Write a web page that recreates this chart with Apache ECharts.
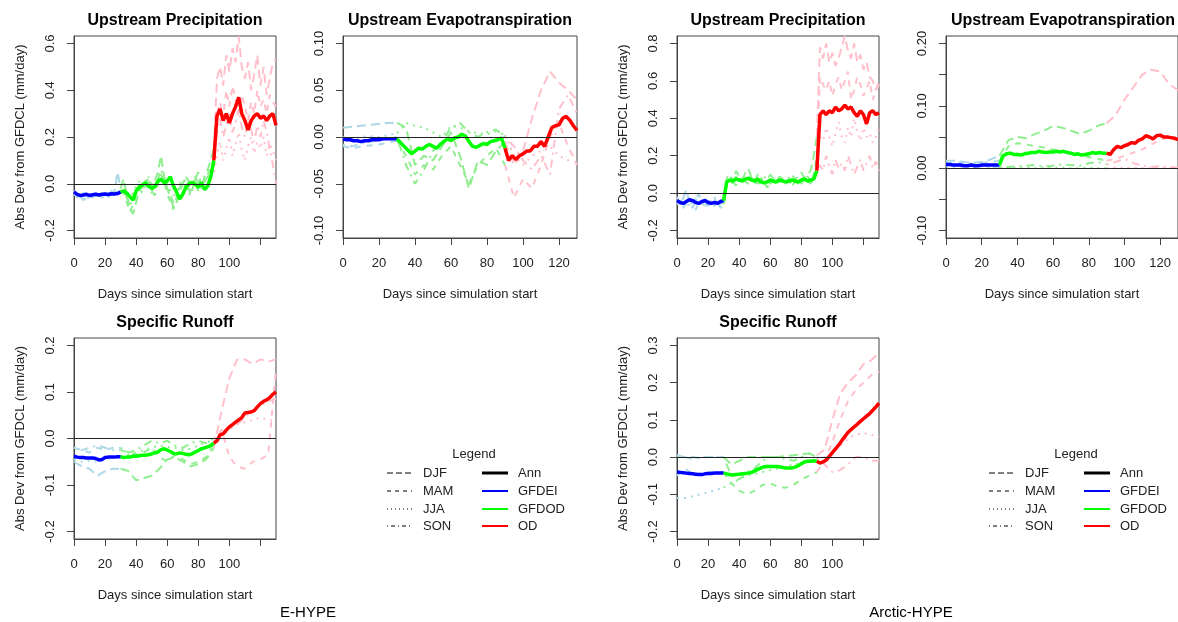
<!DOCTYPE html>
<html lang="en">
<head>
<meta charset="UTF-8">
<title>Abs Dev from GFDCL</title>
<script src="https://cdn.jsdelivr.net/npm/echarts@6/dist/echarts.min.js"></script>
<style>
    html, body { margin: 0; padding: 0; background: #fff; }
    #main { width: 1178px; height: 622px; }
</style>
</head>
<body>
<div id="main"></div>
<script>
// x positions (days since simulation start)
var daysFine = [0,2,4,6,8,10,12,14,16,18,20,22,24,26,28,30,32,34,36,38,40,42,44,46,48,50,52,54,56,58,60,62,64,66,68,70,72,74,76,78,80,82,84,86,88,90,92,94,96,98,100,102,104,106,108,110,112,114,116,118,120,122,124,126,128,130];
var daysCoarse = [0,5,10,15,20,25,30,35,40,45,50,55,60,65,70,75,80,85,90,95,100,105,110,115,120,125,130];

// E-HYPE, upstream precipitation
var ePrecAnn = [-0.035,-0.045,-0.05,-0.048,-0.045,-0.05,-0.047,-0.045,-0.048,-0.045,-0.044,-0.046,-0.043,-0.044,-0.042,-0.035,
    -0.03,-0.04,-0.055,-0.07,-0.03,-0.015,-0.005,0.005,-0.01,-0.02,-0.012,0.01,0.02,0.005,0.012,0.03,-0.01,-0.035,-0.065,-0.045,-0.015,0.0,0.005,-0.002,-0.015,0.005,-0.025,-0.01,0.03,
    0.1,
    0.29,0.32,0.27,0.30,0.26,0.30,0.33,0.37,0.30,0.27,0.23,0.27,0.29,0.30,0.28,0.29,0.27,0.29,0.30,0.25];
var ePrecDjf = [-0.03,-0.05,-0.06,-0.04,-0.05,-0.07,-0.05,-0.04,-0.06,-0.05,-0.04,-0.05,-0.03,-0.04,0.05,-0.02,
    0.02,-0.05,-0.1,-0.13,-0.08,-0.03,0.0,0.02,-0.02,-0.04,0.01,0.05,0.12,0.03,-0.02,-0.06,-0.1,-0.08,-0.04,0.0,0.03,0.01,-0.03,0.02,0.05,-0.02,0.03,0.06,0.1,
    0.15,0.45,0.5,0.42,0.55,0.48,0.58,0.52,0.63,0.5,0.45,0.52,0.4,0.47,0.55,0.42,0.5,0.38,0.45,0.52,0.53];
var ePrecMam = [-0.04,-0.06,-0.05,-0.07,-0.06,-0.05,-0.06,-0.04,-0.05,-0.06,-0.05,-0.06,-0.04,-0.05,-0.04,-0.03,
    -0.04,-0.08,-0.12,-0.09,-0.05,-0.02,-0.04,-0.01,0.02,-0.03,-0.05,0.0,0.04,0.01,-0.04,-0.08,-0.11,-0.06,-0.02,0.01,-0.02,-0.05,-0.01,0.02,-0.03,0.0,0.02,0.04,0.07,
    0.1,0.3,0.35,0.28,0.4,0.33,0.42,0.36,0.3,0.38,0.33,0.27,0.35,0.3,0.4,0.33,0.36,0.3,0.38,0.35,0.33];
var ePrecJja = [-0.05,-0.04,-0.05,-0.05,-0.04,-0.06,-0.05,-0.05,-0.04,-0.05,-0.05,-0.04,-0.05,-0.04,-0.04,-0.04,
    -0.02,-0.03,-0.06,-0.04,-0.01,0.01,-0.01,0.0,0.02,0.0,-0.02,0.01,0.03,0.02,0.0,-0.03,-0.05,-0.03,0.0,0.02,0.01,-0.01,0.0,0.02,0.01,0.0,0.02,0.03,0.04,
    0.05,0.12,0.18,0.1,0.15,0.2,0.12,0.17,0.22,0.14,0.1,0.16,0.2,0.13,0.18,0.15,0.2,0.12,0.17,0.14,0.1];
var ePrecSon = [-0.04,-0.05,-0.06,-0.05,-0.05,-0.04,-0.06,-0.05,-0.05,-0.04,-0.05,-0.05,-0.04,-0.05,-0.03,-0.04,
    -0.03,-0.06,-0.09,-0.07,-0.03,0.0,-0.02,0.01,0.03,-0.01,-0.03,0.02,0.06,0.03,-0.01,-0.05,-0.08,-0.05,-0.02,0.02,0.0,-0.03,0.0,0.03,0.0,-0.02,0.01,0.03,0.05,
    0.08,0.22,0.28,0.2,0.25,0.3,0.22,0.26,0.32,0.24,0.2,0.27,0.23,0.18,0.25,0.2,0.27,0.22,0.15,0.08,0.0];

// E-HYPE, upstream evapotranspiration
var eEvapAnn = [-0.002,-0.003,-0.003,-0.004,-0.004,-0.005,-0.004,-0.004,-0.003,-0.003,-0.003,-0.002,-0.002,-0.002,-0.002,-0.002,
    -0.006,-0.01,-0.014,-0.018,-0.015,-0.012,-0.013,-0.01,-0.008,-0.01,-0.012,-0.008,-0.005,-0.002,-0.004,-0.001,0.0,0.003,0.001,-0.005,-0.01,-0.011,-0.009,-0.007,-0.008,-0.005,-0.004,-0.003,-0.001,
    -0.012,-0.025,-0.02,-0.024,-0.02,-0.018,-0.015,-0.015,-0.01,-0.01,-0.005,-0.01,0.0,0.01,0.012,0.013,0.02,0.022,0.018,0.012,0.007];
var eEvapDjf = [0.01,0.011,0.012,0.013,0.014,0.015,0.015,0.01,-0.03,-0.02,-0.025,-0.01,0.005,-0.02,-0.055,-0.025,-0.03,-0.015,-0.005,-0.03,-0.015,0.02,0.05,0.07,0.058,0.05,0.04];
var eEvapMam = [-0.01,-0.012,-0.01,-0.009,-0.008,-0.006,-0.004,-0.02,-0.04,-0.03,-0.035,-0.02,-0.01,-0.03,-0.05,-0.03,-0.02,-0.012,-0.03,-0.065,-0.045,-0.055,-0.03,0.0,0.015,-0.01,-0.03];
var eEvapJja = [0.0,-0.002,0.0,0.001,0.0,0.002,0.004,0.015,0.012,0.01,0.005,0.0,0.012,0.01,0.006,0.004,0.003,0.006,0.002,-0.02,-0.03,-0.02,-0.015,-0.01,-0.02,-0.025,-0.015];
var eEvapSon = [-0.008,-0.01,-0.007,-0.005,-0.003,-0.002,0.0,-0.03,-0.05,-0.035,-0.015,-0.005,0.01,0.015,0.005,0.0,0.005,0.008,0.0,-0.01,-0.025,-0.035,-0.02,-0.04,0.03,0.045,0.025];

// Arctic-HYPE, upstream precipitation
var aPrecAnn = [-0.04,-0.05,-0.055,-0.045,-0.035,-0.04,-0.05,-0.055,-0.045,-0.04,-0.05,-0.055,-0.05,-0.055,-0.045,-0.04,
    0.06,0.07,0.065,0.075,0.07,0.065,0.075,0.08,0.07,0.065,0.075,0.06,0.055,0.06,0.07,0.065,0.06,0.07,0.065,0.06,0.065,0.07,0.065,0.06,0.07,0.075,0.065,0.07,0.075,
    0.12,
    0.42,0.44,0.42,0.44,0.43,0.46,0.44,0.45,0.47,0.45,0.46,0.43,0.41,0.44,0.42,0.37,0.43,0.44,0.42,0.43];
var aPrecDjf = [-0.02,-0.06,-0.03,0.02,-0.05,-0.08,-0.04,0.0,-0.06,-0.03,-0.07,-0.04,-0.02,-0.06,-0.05,-0.03,
    0.08,0.1,0.06,0.12,0.09,0.07,0.11,0.13,0.08,0.06,0.1,0.09,0.05,0.07,0.1,0.08,0.06,0.09,0.07,0.05,0.08,0.1,0.07,0.09,0.11,0.08,0.1,0.12,0.2,
    0.3,0.78,0.72,0.8,0.7,0.75,0.68,0.72,0.78,0.84,0.76,0.72,0.8,0.7,0.74,0.66,0.7,0.62,0.6,0.55,0.6];
var aPrecMam = [-0.06,-0.04,-0.08,-0.05,-0.03,-0.07,-0.09,-0.05,-0.04,-0.08,-0.06,-0.03,-0.07,-0.05,-0.08,-0.06,
    0.04,0.07,0.05,0.09,0.06,0.08,0.05,0.07,0.1,0.06,0.04,0.08,0.06,0.03,0.05,0.07,0.04,0.06,0.08,0.05,0.07,0.04,0.06,0.08,0.05,0.07,0.09,0.06,0.1,
    0.2,0.62,0.58,0.55,0.6,0.52,0.58,0.62,0.55,0.6,0.65,0.5,0.55,0.62,0.58,0.52,0.56,0.6,0.5,0.55,0.58];
var aPrecJja = [-0.04,-0.05,-0.03,-0.06,-0.05,-0.04,-0.06,-0.05,-0.04,-0.05,-0.06,-0.05,-0.04,-0.06,-0.05,-0.05,
    0.06,0.07,0.08,0.06,0.07,0.08,0.07,0.06,0.08,0.07,0.06,0.07,0.08,0.06,0.07,0.06,0.07,0.08,0.06,0.07,0.06,0.07,0.08,0.06,0.07,0.08,0.06,0.07,0.08,
    0.15,0.3,0.28,0.35,0.3,0.25,0.32,0.38,0.3,0.27,0.35,0.3,0.4,0.33,0.28,0.35,0.3,0.32,0.27,0.3,0.35];
var aPrecSon = [-0.05,-0.03,-0.06,-0.04,-0.07,-0.05,-0.03,-0.06,-0.05,-0.07,-0.04,-0.06,-0.05,-0.04,-0.06,-0.04,
    0.05,0.08,0.06,0.04,0.07,0.09,0.06,0.05,0.08,0.07,0.05,0.06,0.09,0.07,0.05,0.06,0.08,0.05,0.07,0.06,0.04,0.07,0.06,0.05,0.08,0.06,0.07,0.05,0.08,
    0.1,0.15,0.12,0.2,0.14,0.1,0.18,0.13,0.16,0.12,0.2,0.15,0.1,0.14,0.18,0.12,0.16,0.2,0.13,0.17,0.12];

// Arctic-HYPE, upstream evapotranspiration
var aEvapAnn = [0.006,0.006,0.005,0.005,0.005,0.004,0.004,0.005,0.004,0.004,0.005,0.005,0.005,0.005,0.005,0.005,
    0.02,0.023,0.024,0.022,0.022,0.021,0.023,0.024,0.025,0.025,0.027,0.026,0.025,0.026,0.026,0.027,0.026,0.027,0.025,0.024,0.022,0.023,0.021,0.022,0.023,0.025,0.024,0.025,0.024,
    0.024,
    0.022,0.03,0.035,0.033,0.036,0.038,0.041,0.04,0.045,0.047,0.052,0.05,0.047,0.052,0.053,0.05,0.05,0.049,0.048,0.046];
var aEvapDjf = [0.012,0.012,0.01,0.009,0.01,0.014,0.02,0.045,0.05,0.048,0.055,0.06,0.068,0.065,0.06,0.055,0.06,0.068,0.072,0.085,0.11,0.13,0.15,0.158,0.155,0.135,0.125];
var aEvapMam = [0.008,0.009,0.008,0.007,0.008,0.01,0.012,0.035,0.04,0.038,0.035,0.033,0.03,0.028,0.025,0.02,0.018,0.015,0.012,0.015,0.02,0.025,0.03,0.038,0.045,0.05,0.048];
var aEvapJja = [0.003,0.002,0.003,0.002,0.003,0.002,0.002,0.001,0.0,0.001,0.0,0.001,0.0,0.001,0.0,0.0,0.001,0.0,0.0,0.001,0.0,0.001,0.0,0.001,0.0,0.001,0.0];
var aEvapSon = [0.005,0.004,0.005,0.004,0.003,0.002,0.001,0.002,0.003,0.004,0.005,0.003,0.004,0.006,0.005,0.004,0.008,0.01,0.006,0.01,0.015,0.008,0.004,0.002,0.003,0.002,0.001];

// E-HYPE, specific runoff
var eRunAnn = [-0.038,-0.04,-0.041,-0.041,-0.042,-0.042,-0.042,-0.043,-0.046,-0.045,-0.041,-0.04,-0.04,-0.04,-0.039,-0.039,
    -0.041,-0.04,-0.04,-0.038,-0.038,-0.037,-0.036,-0.036,-0.035,-0.033,-0.031,-0.029,-0.024,-0.022,-0.025,-0.028,-0.032,-0.033,-0.031,-0.032,-0.034,-0.035,-0.033,-0.029,-0.026,-0.022,-0.02,-0.018,-0.015,
    -0.01,
    -0.005,0.008,0.01,0.018,0.025,0.03,0.035,0.04,0.045,0.055,0.056,0.057,0.06,0.068,0.075,0.08,0.083,0.088,0.095,0.1];
var eRunDjf = [-0.05,-0.06,-0.065,-0.08,-0.07,-0.065,-0.065,-0.07,-0.09,-0.085,-0.08,-0.065,-0.045,-0.04,-0.05,-0.06,-0.055,-0.045,-0.02,0.06,0.13,0.17,0.17,0.16,0.17,0.165,0.17];
var eRunMam = [-0.02,-0.025,-0.03,-0.02,-0.025,-0.02,-0.025,-0.03,-0.035,-0.03,-0.02,-0.04,-0.05,-0.035,-0.045,-0.055,-0.05,-0.04,-0.01,0.02,-0.04,-0.06,-0.065,-0.05,-0.045,-0.035,0.15];
var eRunJja = [-0.045,-0.05,-0.048,-0.05,-0.045,-0.04,-0.04,-0.035,-0.03,-0.025,-0.02,-0.015,-0.018,-0.02,-0.025,-0.022,-0.015,-0.008,-0.005,0.005,0.02,0.03,0.035,0.04,0.045,0.04,0.038];
var eRunSon = [-0.02,-0.025,-0.02,-0.015,-0.02,-0.025,-0.02,-0.03,-0.025,-0.015,-0.005,-0.01,-0.005,-0.015,-0.02,-0.01,-0.005,-0.01,0.0,0.01,0.02,0.03,0.045,0.06,0.07,0.08,0.085];

// Arctic-HYPE, specific runoff
var aRunAnn = [-0.04,-0.041,-0.042,-0.043,-0.044,-0.045,-0.046,-0.047,-0.047,-0.045,-0.044,-0.044,-0.043,-0.043,-0.043,-0.043,
    -0.045,-0.047,-0.048,-0.047,-0.046,-0.045,-0.044,-0.043,-0.041,-0.037,-0.033,-0.029,-0.026,-0.025,-0.025,-0.025,-0.025,-0.026,-0.028,-0.029,-0.029,-0.029,-0.027,-0.023,-0.018,-0.013,-0.011,-0.011,-0.01,
    -0.011,
    -0.016,-0.013,-0.008,0.002,0.012,0.022,0.032,0.044,0.055,0.066,0.074,0.081,0.088,0.096,0.103,0.11,0.117,0.126,0.135,0.145];
var aRunDjf = [0.005,0.0,0.0,-0.003,0.0,0.0,0.0,-0.02,-0.01,0.0,0.0,0.0,0.0,0.0,0.003,0.005,0.008,0.01,0.005,0.02,0.1,0.17,0.2,0.22,0.25,0.26,0.28];
var aRunMam = [-0.05,-0.03,-0.045,-0.045,-0.04,-0.04,-0.04,-0.07,-0.09,-0.1,-0.09,-0.075,-0.07,-0.08,-0.082,-0.075,-0.06,-0.05,-0.04,-0.01,0.04,0.1,0.15,0.18,0.2,0.22,0.23];
var aRunJja = [-0.11,-0.11,-0.105,-0.1,-0.095,-0.088,-0.082,-0.07,-0.06,-0.05,-0.045,-0.04,-0.035,-0.03,-0.025,-0.02,-0.015,-0.01,-0.005,0.0,0.01,0.03,0.05,0.06,0.065,0.06,0.055];
var aRunSon = [0.005,0.0,-0.005,0.0,0.0,0.0,0.0,-0.05,-0.06,-0.04,-0.03,-0.01,0.0,0.0,-0.005,-0.01,0.0,0.01,0.0,-0.02,-0.04,-0.035,-0.02,0.0,0.0,-0.01,-0.01];

var FONT = "'Liberation Sans', Arial, sans-serif";
var xTicks = [0,20,40,60,80,100,120];

var panels = [
    {title:'Upstream Precipitation', left:74, top:36, width:202, height:202, titleY:21,
     yMin:-0.232, yMax:0.632, yTicks:[-0.2,0,0.2,0.4,0.6], yLabels:[-0.2,0,0.2,0.4,0.6], dec:1,
     xLabels:[0,20,40,60,80,100], yName:true,
     ann:ePrecAnn, djf:ePrecDjf, mam:ePrecMam, jja:ePrecJja, son:ePrecSon},
    {title:'Upstream Evapotranspiration', left:343, top:36, width:234, height:202, titleY:21,
     yMin:-0.108, yMax:0.108, yTicks:[-0.1,-0.05,0,0.05,0.1], yLabels:[-0.1,-0.05,0,0.05,0.1], dec:2,
     xLabels:xTicks, yName:false,
     ann:eEvapAnn, djf:eEvapDjf, mam:eEvapMam, jja:eEvapJja, son:eEvapSon},
    {title:'Upstream Precipitation', left:677, top:36, width:202, height:202, titleY:21,
     yMin:-0.24, yMax:0.84, yTicks:[-0.2,0,0.2,0.4,0.6,0.8], yLabels:[-0.2,0,0.2,0.4,0.6,0.8], dec:1,
     xLabels:[0,20,40,60,80,100], yName:true,
     ann:aPrecAnn, djf:aPrecDjf, mam:aPrecMam, jja:aPrecJja, son:aPrecSon},
    {title:'Upstream Evapotranspiration', left:946, top:36, width:234, height:202, titleY:21,
     yMin:-0.112, yMax:0.212, yTicks:[-0.1,-0.05,0,0.05,0.1,0.15,0.2], yLabels:[-0.1,0,0.1,0.2], dec:2,
     xLabels:xTicks, yName:false,
     ann:aEvapAnn, djf:aEvapDjf, mam:aEvapMam, jja:aEvapJja, son:aEvapSon},
    {title:'Specific Runoff', left:74, top:338, width:202, height:201, titleY:323,
     yMin:-0.216, yMax:0.216, yTicks:[-0.2,-0.1,0,0.1,0.2], yLabels:[-0.2,-0.1,0,0.1,0.2], dec:1,
     xLabels:[0,20,40,60,80,100], yName:true,
     ann:eRunAnn, djf:eRunDjf, mam:eRunMam, jja:eRunJja, son:eRunSon},
    {title:'Specific Runoff', left:677, top:338, width:202, height:201, titleY:323,
     yMin:-0.22, yMax:0.32, yTicks:[-0.2,-0.1,0,0.1,0.2,0.3], yLabels:[-0.2,-0.1,0,0.1,0.2,0.3], dec:1,
     xLabels:[0,20,40,60,80,100], yName:true,
     ann:aRunAnn, djf:aRunDjf, mam:aRunMam, jja:aRunJja, son:aRunSon}
];

// period split: GFDEI 0-30, GFDOD 30-90, OD 90-130
var periods = [
    {lo:0, hi:30, light:'#ADD8E6', dark:'#0000FF'},
    {lo:30, hi:90, light:'#90EE90', dark:'#00FF00'},
    {lo:90, hi:130, light:'#FFC0CB', dark:'#FF0000'}
];
var seasons = [
    {key:'djf', dash:[9,5]},
    {key:'mam', dash:[6,6]},
    {key:'jja', dash:[2,5]},
    {key:'son', dash:[2,5,8,5]}
];

function seg(vals, lo, hi) {
    var days = vals.length === daysFine.length ? daysFine : daysCoarse;
    var out = [];
    for (var i = 0; i < days.length; i++) {
        if (days[i] >= lo && days[i] <= hi) out.push([days[i], vals[i]]);
    }
    return out;
}

var grids = [], xAxes = [], yAxes = [], series = [], graphics = [];
var axisColor = '#444', textColor = '#222';

panels.forEach(function (p, i) {
    grids.push({left:p.left, top:p.top, width:p.width, height:p.height,
        show:true, borderColor:axisColor, borderWidth:1, backgroundColor:'transparent'});
    xAxes.push({
        gridIndex:i, type:'value', min:0, max:130, position:'bottom',
        axisLine:{show:true, onZero:false, lineStyle:{color:axisColor}},
        axisTick:{show:true, inside:false, length:7, customValues:xTicks, lineStyle:{color:axisColor}},
        axisLabel:{customValues:p.xLabels, margin:19, fontSize:13, color:textColor, fontFamily:FONT},
        splitLine:{show:false},
        name:'Days since simulation start', nameLocation:'middle', nameGap:50,
        nameTextStyle:{fontSize:13, color:textColor, fontFamily:FONT}
    });
    yAxes.push({
        gridIndex:i, type:'value', min:p.yMin, max:p.yMax, position:'left',
        axisLine:{show:true, onZero:false, lineStyle:{color:axisColor}},
        axisTick:{show:true, inside:false, length:7, customValues:p.yTicks, lineStyle:{color:axisColor}},
        axisLabel:{customValues:p.yLabels, rotate:90, margin:17, fontSize:13, color:textColor, fontFamily:FONT,
            formatter:function (v) { return Number(v).toFixed(p.dec); }},
        splitLine:{show:false},
        name:p.yName ? 'Abs Dev from GFDCL (mm/day)' : '', nameLocation:'middle', nameGap:47, nameRotate:90,
        nameTextStyle:{fontSize:13, color:textColor, fontFamily:FONT}
    });

    // seasonal means, light colours
    seasons.forEach(function (s) {
        periods.forEach(function (per) {
            series.push({type:'line', xAxisIndex:i, yAxisIndex:i, showSymbol:false, silent:true,
                data:seg(p[s.key], per.lo, per.hi),
                lineStyle:{color:per.light, width:2, type:s.dash}});
        });
    });
    // annual mean, bold
    periods.forEach(function (per, k) {
        var sr = {type:'line', xAxisIndex:i, yAxisIndex:i, showSymbol:false, silent:true,
            data:seg(p.ann, per.lo, per.hi),
            lineStyle:{color:per.dark, width:3.5}, z:3};
        if (k === 0) {
            sr.markLine = {silent:true, symbol:'none', label:{show:false},
                lineStyle:{color:'#222', type:'solid', width:1}, data:[{yAxis:0}]};
        }
        series.push(sr);
    });

    graphics.push({type:'text', x:p.left + p.width / 2, y:p.titleY,
        style:{text:p.title, fontSize:16, fontWeight:'bold', fontFamily:FONT, fill:'#000',
            align:'center', verticalAlign:'middle'}});
});

// legends
var legendRows = [
    {txt:'DJF', dash:[6,3], ann:'Ann', color:'#000', w:3},
    {txt:'MAM', dash:[4,4], ann:'GFDEI', color:'#0000FF', w:2},
    {txt:'JJA', dash:[1,3], ann:'GFDOD', color:'#00FF00', w:2},
    {txt:'SON', dash:[1,3,4,3], ann:'OD', color:'#FF0000', w:2}
];
var legendY = [473, 491, 509, 526];
function addLegend(x0) {
    graphics.push({type:'text', x:x0 + 104, y:454,
        style:{text:'Legend', fontSize:13, fontFamily:FONT, fill:textColor, align:'center', verticalAlign:'middle'}});
    legendRows.forEach(function (r, k) {
        var y = legendY[k];
        graphics.push({type:'line', shape:{x1:x0 + 17, y1:y, x2:x0 + 42, y2:y},
            style:{stroke:'#000', lineWidth:1, lineDash:r.dash}});
        graphics.push({type:'text', x:x0 + 53, y:y,
            style:{text:r.txt, fontSize:13, fontFamily:FONT, fill:textColor, align:'left', verticalAlign:'middle'}});
        graphics.push({type:'line', shape:{x1:x0 + 112, y1:y, x2:x0 + 138, y2:y},
            style:{stroke:r.color, lineWidth:r.w}});
        graphics.push({type:'text', x:x0 + 148, y:y,
            style:{text:r.ann, fontSize:13, fontFamily:FONT, fill:textColor, align:'left', verticalAlign:'middle'}});
    });
}
addLegend(370);
addLegend(972);

graphics.push({type:'text', x:308, y:613,
    style:{text:'E-HYPE', fontSize:15, fontFamily:FONT, fill:'#000', align:'center', verticalAlign:'middle'}});
graphics.push({type:'text', x:911, y:613,
    style:{text:'Arctic-HYPE', fontSize:15, fontFamily:FONT, fill:'#000', align:'center', verticalAlign:'middle'}});

var myChart = echarts.init(document.getElementById('main'));
myChart.setOption({
    backgroundColor:'#fff',
    animation:false,
    grid:grids,
    xAxis:xAxes,
    yAxis:yAxes,
    series:series,
    graphic:graphics
});
</script>
</body>
</html>
